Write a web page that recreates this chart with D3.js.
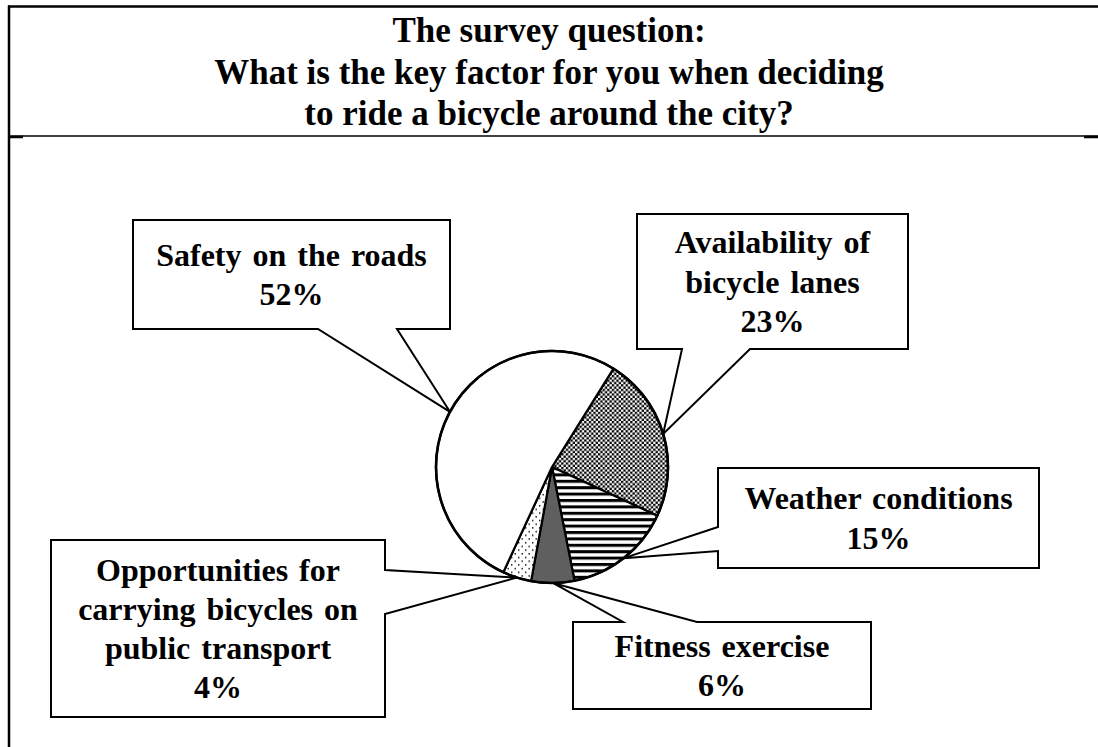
<!DOCTYPE html>
<html><head><meta charset="utf-8">
<script src="https://cdn.jsdelivr.net/npm/d3@7"></script>
<style>html,body{margin:0;padding:0;background:#fff;}svg{display:block;}</style>
</head><body>
<svg id="chart" width="1098" height="747"></svg>
<script>
// ---- data ----
const titleLines = ["The survey question:", "What is the key factor for you when deciding", "to ride a bicycle around the city?"];
const categories = ["Availability of bicycle lanes", "Weather conditions", "Fitness exercise", "Opportunities for carrying bicycles on public transport", "Safety on the roads"];
const values = [23, 15, 6, 4, 52];
const labelLines = [
  ["Availability of", "bicycle lanes"],
  ["Weather conditions"],
  ["Fitness exercise"],
  ["Opportunities for", "carrying bicycles on", "public transport"],
  ["Safety on the roads"]
];
const fills = ["url(#checker)", "url(#stripes)", "#5f5f5f", "url(#dots)", "#ffffff"];

// ---- layout (callout boxes: x0,y0,x1,y1, wedge side + base positions) ----
const boxes = [
  {x0:637, y0:214, x1:908, y1:349, side:"bottom", b:[682, 750]},
  {x0:718, y0:468, x1:1039, y1:568, side:"left", b:[527, 551]},
  {x0:573, y0:622, x1:871, y1:709, side:"top", b:[623, 697]},
  {x0:51, y0:540, x1:385, y1:717, side:"right", b:[570, 614]},
  {x0:133, y0:220, x1:450, y1:329, side:"bottom", b:[318, 397]}
];

const svg = d3.select("#chart");
const FONT = "'Liberation Serif','Times New Roman',Times,serif";

// patterns
const defs = svg.append("defs");
const pc = defs.append("pattern").attr("id","checker").attr("patternUnits","userSpaceOnUse").attr("width",4.6).attr("height",4.6);
pc.append("rect").attr("width",4.6).attr("height",4.6).attr("fill","#fff");
pc.append("rect").attr("width",2.3).attr("height",2.3).attr("fill","#000");
pc.append("rect").attr("x",2.3).attr("y",2.3).attr("width",2.3).attr("height",2.3).attr("fill","#000");
const ps = defs.append("pattern").attr("id","stripes").attr("patternUnits","userSpaceOnUse").attr("width",8).attr("height",6.4);
ps.append("rect").attr("width",8).attr("height",6.4).attr("fill","#fff");
ps.append("rect").attr("y",0).attr("width",8).attr("height",3).attr("fill","#000");
const pd = defs.append("pattern").attr("id","dots").attr("patternUnits","userSpaceOnUse").attr("width",7).attr("height",7.4);
pd.append("rect").attr("width",7).attr("height",7.4).attr("fill","#fff");
pd.append("rect").attr("x",1).attr("y",1).attr("width",1.4).attr("height",1.4).attr("fill","#000");
pd.append("rect").attr("x",4.5).attr("y",4.7).attr("width",1.4).attr("height",1.4).attr("fill","#000");

// frame
svg.append("line").attr("x1",8).attr("x2",1098).attr("y1",6.5).attr("y2",6.5).attr("stroke","#000").attr("stroke-width",2.5);
svg.append("line").attr("x1",9).attr("x2",9).attr("y1",5.5).attr("y2",747).attr("stroke","#000").attr("stroke-width",2.5);
svg.append("line").attr("x1",9).attr("x2",1098).attr("y1",136).attr("y2",136).attr("stroke","#000").attr("stroke-width",1.5);
svg.append("line").attr("x1",9).attr("x2",23).attr("y1",137).attr("y2",137).attr("stroke","#000").attr("stroke-width",2.5);
svg.append("line").attr("x1",1084).attr("x2",1098).attr("y1",137).attr("y2",137).attr("stroke","#000").attr("stroke-width",2.5);

// title
svg.append("g").selectAll("text").data(titleLines).join("text")
  .attr("x", 549).attr("y", (d,i)=> 42 + i*41.5)
  .attr("text-anchor","middle").attr("font-family",FONT).attr("font-weight","bold")
  .attr("font-size",35).attr("fill","#000").text(d=>d);

// pie
const cx = 552, cy = 467, R = 116;
const start = 32 * Math.PI/180;
const pie = d3.pie().sort(null).value(d=>d).startAngle(start).endAngle(start + 2*Math.PI);
const arcs = pie(values);
const arc = d3.arc().innerRadius(0).outerRadius(R);
const edgeArc = d3.arc().innerRadius(R).outerRadius(R);

// callouts (drawn first so pie sits on top of tips)
const gC = svg.append("g");
arcs.forEach((a,i)=>{
  const b = boxes[i];
  const t = edgeArc.centroid(a);
  const tx = cx + t[0], ty = cy + t[1];
  let pts;
  if (b.side === "bottom") pts = [[b.x0,b.y0],[b.x1,b.y0],[b.x1,b.y1],[b.b[1],b.y1],[tx,ty],[b.b[0],b.y1],[b.x0,b.y1]];
  else if (b.side === "top") pts = [[b.x0,b.y0],[b.b[0],b.y0],[tx,ty],[b.b[1],b.y0],[b.x1,b.y0],[b.x1,b.y1],[b.x0,b.y1]];
  else if (b.side === "left") pts = [[b.x0,b.y0],[b.x1,b.y0],[b.x1,b.y1],[b.x0,b.y1],[b.x0,b.b[1]],[tx,ty],[b.x0,b.b[0]]];
  else pts = [[b.x0,b.y0],[b.x1,b.y0],[b.x1,b.b[0]],[tx,ty],[b.x1,b.b[1]],[b.x1,b.y1],[b.x0,b.y1]];
  gC.append("path").attr("d", d3.line()(pts) + "Z")
    .attr("fill","#fff").attr("stroke","#000").attr("stroke-width",2).attr("stroke-linejoin","miter");
  const lines = labelLines[i].concat([values[i] + "%"]);
  const lh = 39.3;
  const midY = (b.y0 + b.y1)/2;
  const y0 = midY - (lines.length-1)*lh/2 + 11;
  gC.append("g").selectAll("text").data(lines).join("text")
    .attr("x",(b.x0+b.x1)/2).attr("y",(d,j)=> y0 + j*lh)
    .attr("text-anchor","middle").attr("font-family",FONT).attr("font-weight","bold")
    .attr("font-size",32).attr("word-spacing",3).attr("fill","#000").text(d=>d);
});

const gP = svg.append("g").attr("transform",`translate(${cx},${cy})`);
gP.selectAll("path").data(arcs).join("path")
  .attr("d", arc).attr("fill",(d,i)=>fills[i])
  .attr("stroke","#000").attr("stroke-width",2.2).attr("stroke-linejoin","round");
gP.append("circle").attr("r",R).attr("fill","none").attr("stroke","#000").attr("stroke-width",2.6);
</script>
</body></html>
